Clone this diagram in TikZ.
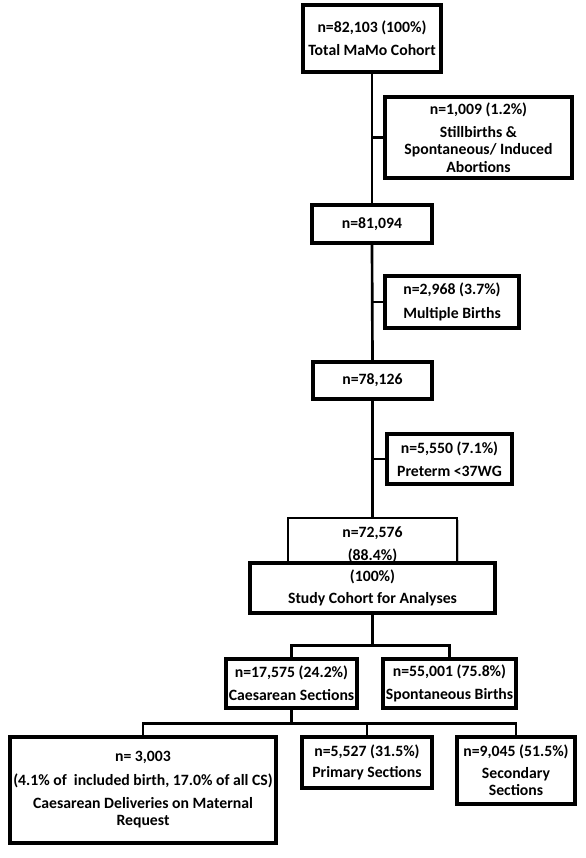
\documentclass[tikz,border=0pt]{standalone}
\usepackage{fontspec}
\setmainfont{Carlito}
\usetikzlibrary{positioning, shadows}

\begin{document}
\begin{tikzpicture}[x=0.75pt, y=-0.75pt,
  box/.style={%
    rectangle, draw=black, line width=2.6pt, fill=white,
    drop shadow={shadow xshift=1.4pt, shadow yshift=-1.4pt, fill=black!45},
    font=\fontsize{11.8}{13}\selectfont\bfseries,
    align=center, inner sep=2pt},
  flow/.style={line width=2pt}
]
\useasboundingbox (0,0) rectangle (586,858);

% main cohort column
\node[box, minimum width=103.5pt, minimum height=50.25pt] (total) at (372,38.5)
  {n=82,103 (100\%)\\[4.5pt]Total MaMo Cohort};
\node[box, minimum width=140.25pt, minimum height=60.75pt] (still) at (478.5,137.5)
  {n=1,009 (1.2\%)\\[4.5pt]Stillbirths \&\\Spontaneous/ Induced\\Abortions};
\node[box, minimum width=90pt, minimum height=28.5pt] (n81) at (372,224) {n=81,094};
\node[box, minimum width=100.5pt, minimum height=39pt] (multi) at (452,302)
  {n=2,968 (3.7\%)\\[4.5pt]Multiple Births};
\node[box, minimum width=89.25pt, minimum height=27.75pt] (n78) at (372.5,380.5) {n=78,126};
\node[box, minimum width=93.75pt, minimum height=37.5pt] (preterm) at (449.5,459)
  {n=5,550 (7.1\%)\\[4.5pt]Preterm <37WG};

% study cohort
\node[box, line width=1.8pt, drop shadow={opacity=0}, minimum width=126.75pt,
  minimum height=40pt, anchor=north] (n72) at (372.5,517)
  {n=72,576\\[4.25pt](88.4\%)};
\node[box, minimum width=183.75pt, minimum height=37.5pt] (study) at (372.5,588)
  {(100\%)\\[3pt]Study Cohort for Analyses};

% delivery mode
\node[box, minimum width=98.25pt, minimum height=36.75pt] (caes) at (291.5,683.5)
  {n=17,575 (24.2\%)\\[4.5pt]Caesarean Sections};
\node[box, minimum width=99.75pt, minimum height=36.75pt] (spont) at (449.5,683.5)
  {n=55,001 (75.8\%)\\[4.5pt]Spontaneous Births};

% caesarean subgroups
\node[box, minimum width=199.5pt, minimum height=79.5pt] (cdmr) at (143,790)
  {n= 3,003\\[4.5pt](4.1\% of\ \ included birth, 17.0\% of all CS)\\[4.5pt]Caesarean Deliveries on Maternal\\Request};
\node[box, minimum width=97.5pt, minimum height=38.25pt] (primary) at (367,762.5)
  {n=5,527 (31.5\%)\\[3pt]Primary Sections};
\node[box, minimum width=88.5pt, minimum height=50.25pt] (second) at (516,770.5)
  {n=9,045 (51.5\%)\\[3pt]Secondary\\Sections};

% connectors
\draw[flow] (total.south) -- (n81.north);
\draw[flow] (n81.south) -- (n78.north);
\draw[flow] (n78.south) -- (n72.north);
\draw[flow] (still.west -| total.south) -- (still.west);
\draw[flow] (multi.west -| n81.south) -- (multi.west);
\draw[flow] (preterm.west -| n78.south) -- (preterm.west);

\draw[flow] (study.south) -- ++(0,31) coordinate (split1);
\draw[flow] (caes.north) |- (split1) -| (spont.north);

\draw[flow] (caes.south) -- ++(0,14) coordinate (split2);
\draw[flow] (cdmr.north) |- (split2) -| (second.north);
\draw[flow] (primary.north) -- (primary.north |- split2);
\end{tikzpicture}
\end{document}
